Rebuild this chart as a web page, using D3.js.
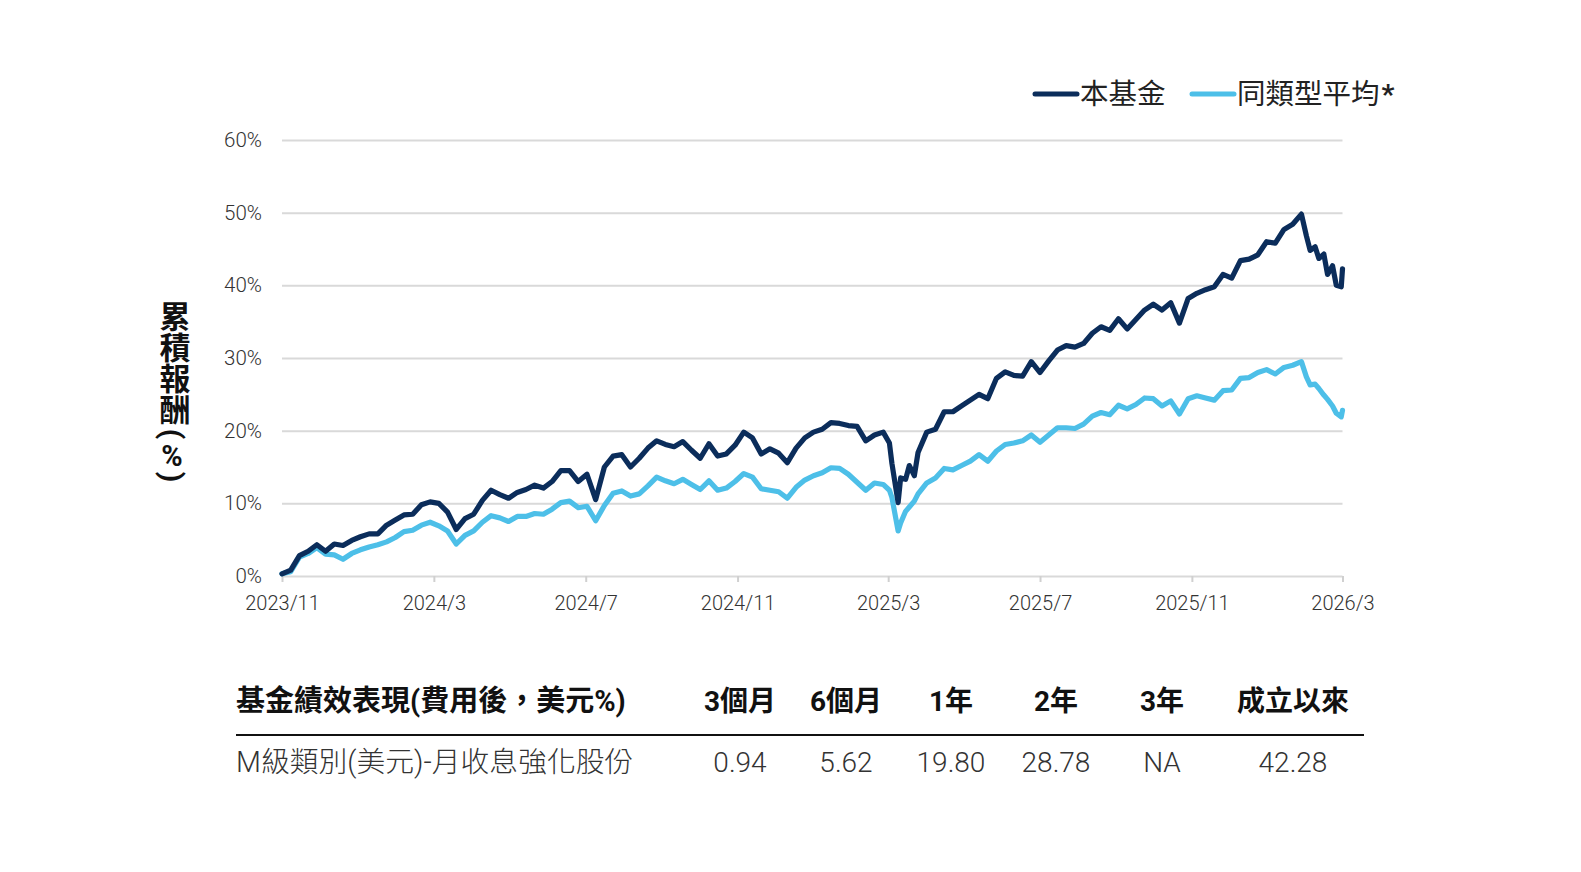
<!DOCTYPE html>
<html>
<head>
<meta charset="utf-8">
<script src="https://cdn.jsdelivr.net/npm/d3@7"></script>
<style>
  body { margin: 0; background: #fff; }
  text { font-family: Roboto, "Noto Sans CJK TC", sans-serif; }
</style>
</head>
<body>
<div id="chart"></div>
<script>
// weekly observations (cumulative return, %), a few extra days around sharp moves
var dates = [
  "2023-11-30","2023-12-07","2023-12-14","2023-12-21","2023-12-28",
  "2024-01-04","2024-01-11","2024-01-18","2024-01-25","2024-02-01","2024-02-08","2024-02-15","2024-02-22","2024-02-29",
  "2024-03-07","2024-03-14","2024-03-21","2024-03-28","2024-04-04","2024-04-11","2024-04-18","2024-04-25",
  "2024-05-02","2024-05-09","2024-05-16","2024-05-23","2024-05-30","2024-06-06","2024-06-13","2024-06-20","2024-06-27",
  "2024-07-04","2024-07-11","2024-07-18","2024-07-25","2024-08-01","2024-08-08","2024-08-15","2024-08-22","2024-08-29",
  "2024-09-05","2024-09-12","2024-09-19","2024-09-26","2024-10-03","2024-10-10","2024-10-17","2024-10-24","2024-10-31",
  "2024-11-07","2024-11-14","2024-11-21","2024-11-28","2024-12-05","2024-12-12","2024-12-19","2024-12-26",
  "2025-01-02","2025-01-09","2025-01-16","2025-01-23","2025-01-30","2025-02-06","2025-02-13","2025-02-20","2025-02-27",
  "2025-03-06","2025-03-13","2025-03-20","2025-03-27","2025-04-01","2025-04-03","2025-04-08","2025-04-10","2025-04-14",
  "2025-04-17","2025-04-21","2025-04-24",
  "2025-05-01","2025-05-08","2025-05-15","2025-05-22","2025-05-29","2025-06-05","2025-06-12","2025-06-19","2025-06-26",
  "2025-07-03","2025-07-10","2025-07-17","2025-07-24","2025-07-31","2025-08-07","2025-08-14","2025-08-21","2025-08-28",
  "2025-09-04","2025-09-11","2025-09-18","2025-09-25","2025-10-02","2025-10-09","2025-10-16","2025-10-23","2025-10-30",
  "2025-11-06","2025-11-13","2025-11-20","2025-11-27","2025-12-04","2025-12-11","2025-12-18","2025-12-25",
  "2026-01-01","2026-01-08","2026-01-15","2026-01-22","2026-01-29","2026-02-05","2026-02-12","2026-02-19","2026-02-26",
  "2026-03-02","2026-03-05","2026-03-09","2026-03-12","2026-03-16","2026-03-19","2026-03-23","2026-03-26","2026-03-30",
  "2026-03-31"
];

var fund = [
  0.3, 0.8, 2.8, 3.4, 4.3,
  3.4, 4.4, 4.2, 4.9, 5.4, 5.8, 5.8, 7.0, 7.7,
  8.4, 8.5, 9.8, 10.2, 10.0, 8.8, 6.4, 7.9,
  8.5, 10.4, 11.8, 11.2, 10.7, 11.5, 11.9, 12.5, 12.1,
  13.0, 14.5, 14.5, 13.0, 14.0, 10.5, 15.0, 16.5, 16.7,
  15.0, 16.2, 17.6, 18.6, 18.1, 17.8, 18.5, 17.3, 16.2,
  18.2, 16.5, 16.8, 18.0, 19.8, 19.0, 16.8, 17.5,
  16.9, 15.6, 17.6, 19.0, 19.8, 20.2, 21.1, 21.0, 20.7,
  20.6, 18.6, 19.4, 19.8, 18.3, 15.5, 10.1, 13.5, 13.3,
  15.2, 13.8, 17.0,
  19.8, 20.2, 22.6, 22.6, 23.4, 24.2, 25.0, 24.4, 27.2,
  28.1, 27.6, 27.5, 29.5, 28.0, 29.6, 31.1, 31.7, 31.5,
  32.0, 33.4, 34.3, 33.8, 35.4, 34.0, 35.3, 36.6, 37.4,
  36.6, 37.6, 34.8, 38.2, 38.9, 39.4, 39.8, 41.5,
  41.0, 43.4, 43.6, 44.2, 46.0, 45.8, 47.7, 48.4, 49.8,
  46.8, 44.8, 45.3, 43.7, 44.3, 41.5, 42.7, 40.0, 39.8,
  42.28
];

var peer = [
  0.3, 0.6, 2.6, 3.1, 3.9,
  3.0, 2.9, 2.3, 3.1, 3.6, 4.0, 4.3, 4.7, 5.3,
  6.1, 6.3, 7.0, 7.4, 6.9, 6.2, 4.4, 5.6,
  6.2, 7.4, 8.3, 8.0, 7.5, 8.2, 8.2, 8.6, 8.5,
  9.2, 10.1, 10.3, 9.4, 9.6, 7.6, 9.7, 11.4, 11.7,
  11.0, 11.3, 12.4, 13.6, 13.1, 12.7, 13.3, 12.6, 11.9,
  13.1, 11.8, 12.1, 13.0, 14.1, 13.6, 12.0, 11.8,
  11.6, 10.7, 12.2, 13.2, 13.8, 14.2, 14.9, 14.8, 14.0,
  12.9, 11.8, 12.8, 12.6, 11.8, 10.8, 6.2, 7.3, 8.9,
  9.5, 10.3, 11.3,
  12.8, 13.5, 14.8, 14.6, 15.2, 15.8, 16.7, 15.8, 17.2,
  18.1, 18.3, 18.6, 19.4, 18.4, 19.4, 20.4, 20.4, 20.3,
  20.9, 22.0, 22.5, 22.2, 23.5, 23.0, 23.6, 24.5, 24.4,
  23.4, 24.1, 22.3, 24.4, 24.8, 24.5, 24.2, 25.5,
  25.6, 27.2, 27.3, 28.0, 28.4, 27.8, 28.7, 29.0, 29.5,
  27.4, 26.3, 26.4, 25.8, 24.9, 24.3, 23.4, 22.4, 21.9,
  22.8
];

var seriesNames = ["本基金", "同類型平均"];
var seriesColors = ["#0b2d5b", "#4dbfe8"];

var tickDates = ["2023-11-30","2024-03-31","2024-07-31","2024-11-30","2025-03-31","2025-07-31","2025-11-30","2026-03-31"];
var tickLabels = ["2023/11","2024/3","2024/7","2024/11","2025/3","2025/7","2025/11","2026/3"];
var yTicks = [0, 10, 20, 30, 40, 50, 60];
var yTitleWord = "累積報酬";
var yTitleUnit = ["(", "%", ")"];

var tableTitle = "基金績效表現(費用後，美元%)";
var tableHeaders = ["3個月", "6個月", "1年", "2年", "3年", "成立以來"];
var rowName = "M級類別(美元)-月收息強化股份";
var rowValues = ["0.94", "5.62", "19.80", "28.78", "NA", "42.28"];

var W = 1581, H = 872;
var parse = d3.timeParse("%Y-%m-%d");

var svg = d3.select("#chart")
  .append("svg")
    .attr("width", W)
    .attr("height", H);

var x = d3.scaleTime()
  .domain([parse(tickDates[0]), parse(tickDates[tickDates.length - 1])])
  .range([282, 1342.5]);

var y = d3.scaleLinear()
  .domain([0, 60])
  .range([576, 140]);

// gridlines + y labels
var yAxis = svg.append("g")
  .attr("transform", "translate(282,0)")
  .call(d3.axisLeft(y)
    .tickValues(yTicks)
    .tickSize(-(1342.5 - 282))
    .tickPadding(20)
    .tickFormat(function(d) { return d + "%"; }));
yAxis.select(".domain").remove();
yAxis.selectAll(".tick line")
  .attr("stroke", "#d9d9d9")
  .attr("stroke-width", 2);
yAxis.selectAll(".tick text")
  .attr("font-size", 20.5)
  .attr("font-weight", 300)
  .attr("fill", "#333")
  .attr("font-family", "Roboto");

// x axis
var xAxis = svg.append("g")
  .attr("transform", "translate(0,576)")
  .call(d3.axisBottom(x)
    .tickValues(tickDates.map(parse))
    .tickSize(6)
    .tickPadding(14)
    .tickFormat(function(d, i) { return tickLabels[i]; }));
xAxis.select(".domain").remove();
xAxis.selectAll(".tick line")
  .attr("stroke", "#d0d0d0")
  .attr("stroke-width", 2);
xAxis.selectAll(".tick text")
  .attr("font-size", 20)
  .attr("font-weight", 300)
  .attr("fill", "#333")
  .attr("font-family", "Roboto");

// lines
var line = d3.line()
  .x(function(d) { return x(d.date); })
  .y(function(d) { return y(d.value); });

[peer, fund].forEach(function(vals, j) {
  var idx = j === 0 ? 1 : 0;
  var data = dates.map(function(d, i) { return {date: parse(d), value: vals[i]}; });
  svg.append("path")
    .datum(data)
    .attr("fill", "none")
    .attr("stroke", seriesColors[idx])
    .attr("stroke-width", 5.2)
    .attr("stroke-linejoin", "round")
    .attr("stroke-linecap", "round")
    .attr("d", line);
});

// y axis title: vertical word, then (%) with the brackets turned sideways
svg.append("text")
  .attr("x", 172)
  .attr("y", 301)
  .attr("font-family", "Noto Sans CJK TC")
  .attr("font-weight", "bold")
  .attr("font-size", 31)
  .attr("fill", "#111")
  .style("writing-mode", "vertical-rl")
  .text(yTitleWord);

var unitY = [434, 456, 477];
svg.selectAll(".unit")
  .data(yTitleUnit)
  .enter()
  .append("text")
    .attr("class", "unit")
    .attr("transform", function(d, i) {
      return "translate(172," + unitY[i] + ")" + (d === "%" ? "" : " rotate(90)");
    })
    .attr("text-anchor", "middle")
    .attr("dominant-baseline", "central")
    .attr("font-family", "Noto Sans CJK TC")
    .attr("font-weight", "bold")
    .attr("font-size", function(d) { return d === "%" ? 29 : 30; })
    .attr("fill", "#111")
    .text(function(d) { return d; });

// legend
var legendX = [1035, 1192];
seriesNames.forEach(function(name, i) {
  svg.append("line")
    .attr("x1", legendX[i]).attr("x2", legendX[i] + 42)
    .attr("y1", 94).attr("y2", 94)
    .attr("stroke", seriesColors[i])
    .attr("stroke-width", 5)
    .attr("stroke-linecap", "round");
  var t = svg.append("text")
    .attr("x", legendX[i] + 45)
    .attr("y", 104)
    .attr("font-size", 28.5)
    .attr("fill", "#222")
    .attr("font-family", "Noto Sans CJK TC")
    .text(name);
  if (i === 1) t.append("tspan").attr("font-weight", "bold").attr("dx", 2).text("*");
});

// performance table
var colX = [740, 846, 951, 1056, 1162, 1293];

svg.append("text")
  .attr("x", 236).attr("y", 711)
  .attr("font-size", 29)
  .attr("font-weight", "bold")
  .attr("fill", "#111")
  .text(tableTitle);

svg.selectAll(".hdr")
  .data(tableHeaders)
  .enter()
  .append("text")
    .attr("class", "hdr")
    .attr("x", function(d, i) { return colX[i]; })
    .attr("y", 711)
    .attr("text-anchor", "middle")
    .attr("font-size", 28)
    .attr("font-weight", "bold")
    .attr("fill", "#111")
    .text(function(d) { return d; });

svg.append("line")
  .attr("x1", 236).attr("x2", 1364)
  .attr("y1", 735).attr("y2", 735)
  .attr("stroke", "#111")
  .attr("stroke-width", 2);

svg.append("text")
  .attr("x", 236).attr("y", 772)
  .attr("font-size", 28.8)
  .attr("font-weight", 300)
  .attr("fill", "#333")
  .text(rowName);

svg.selectAll(".val")
  .data(rowValues)
  .enter()
  .append("text")
    .attr("class", "val")
    .attr("x", function(d, i) { return colX[i]; })
    .attr("y", 772)
    .attr("text-anchor", "middle")
    .attr("font-size", 28)
    .attr("font-weight", 300)
    .attr("fill", "#333")
    .text(function(d) { return d; });
</script>
</body>
</html>
